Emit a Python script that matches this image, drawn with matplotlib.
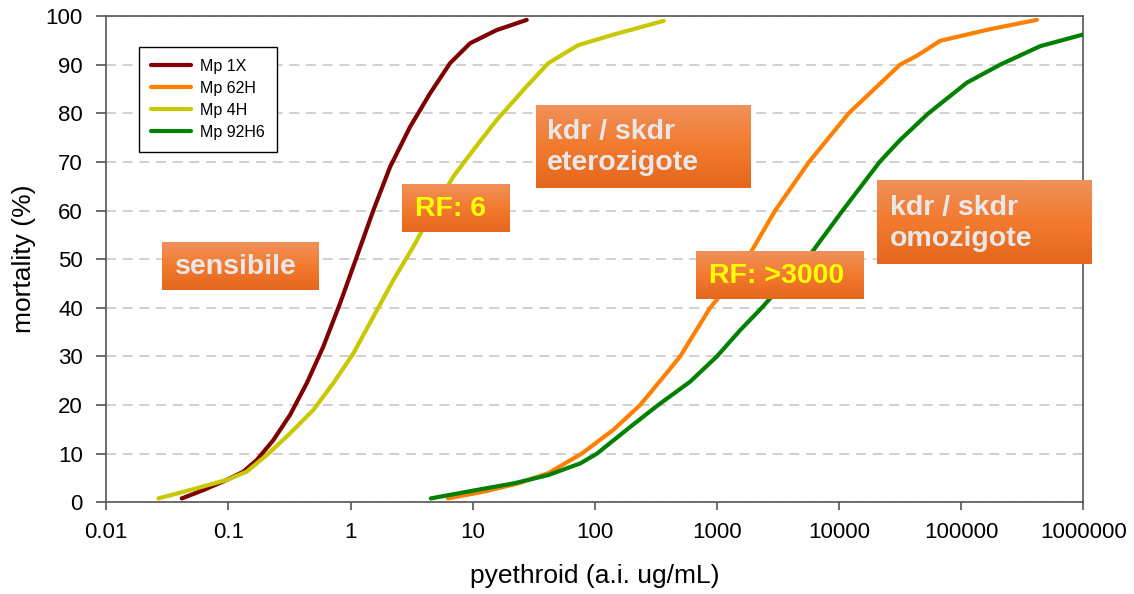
import numpy as np
import matplotlib
matplotlib.use('Agg')
from matplotlib import pyplot as plt
from matplotlib.colors import LinearSegmentedColormap

## Data ----------------------------------------------------------------------
# values (dose on log axis, mortality in %)
mp1x_dose = [0.0415, 0.0622, 0.0968, 0.1325, 0.1706, 0.2334, 0.32, 0.438, 0.598, 0.82, 1.125,
             1.54, 2.11, 3.07, 4.48, 6.53, 9.53, 15.7, 27.7]
mp1x_mort = [0.8, 2.5, 4.6, 6.3, 8.7, 12.8, 18.0, 24.5, 32.0, 40.9, 50.5,
             60.1, 69.0, 77.2, 84.1, 90.3, 94.4, 97.1, 99.2]

mp62h_dose = [6.27, 12.4, 23.7, 41.6, 78, 142, 235, 365, 500, 880, 1282, 1757, 3000,
              5680, 12000, 31600, 43300, 67300, 173000, 417000]
mp62h_mort = [0.8, 2.2, 3.9, 6.0, 10.0, 14.9, 20.0, 25.8, 30.0, 40.0, 45.0, 50.0, 60.0,
              70.0, 80.0, 90.0, 91.8, 94.9, 97.3, 99.2]

mp4h_dose = [0.0267, 0.0516, 0.0968, 0.141, 0.206, 0.32, 0.496, 0.722, 1.054, 1.54, 2.24, 3.27,
             4.77, 6.95, 10.1, 15.7, 26.7, 41.6, 73, 139, 366]
mp4h_mort = [0.8, 2.7, 4.6, 6.3, 9.7, 14.2, 19.0, 24.5, 30.6, 38.2, 45.7, 52.6,
             60.1, 67.0, 72.4, 78.6, 85.1, 90.3, 94.0, 96.1, 99.0]

mp92h6_dose = [4.54, 10.6, 21.8, 41.6, 76, 104, 195, 330, 603, 1000, 1550, 2330, 3510, 5450,
               10700, 21500, 31600, 54000, 111500, 209000, 444000, 1000000]
mp92h6_mort = [0.8, 2.5, 3.9, 5.6, 8.0, 10.0, 15.5, 20.0, 24.8, 30.0, 35.4, 40.0, 45.0, 50.0,
               60.0, 70.0, 74.5, 80.0, 86.3, 90.0, 93.8, 96.2]

series_names = ['Mp 1X', 'Mp 62H', 'Mp 4H', 'Mp 92H6']
series_colors = ['#800000', '#FF8000', '#C8C800', '#008000']

x_ticks = [0.01, 0.1, 1, 10, 100, 1000, 10000, 100000, 1000000]
x_ticklabels = ['0.01', '0.1', '1', '10', '100', '1000', '10000', '100000', '1000000']
y_ticks = list(range(0, 101, 10))

## Figure --------------------------------------------------------------------
plt.rcParams['font.family'] = ['Liberation Sans', 'DejaVu Sans']

W, H = 1134, 594
fig = plt.figure(figsize=(W / 100, H / 100), dpi=100)

def px_box(x0, y0, x1, y1):
    # pixel box (top-left origin) -> figure fraction [l, b, w, h]
    return [x0 / W, 1 - y1 / H, (x1 - x0) / W, (y1 - y0) / H]

ax = fig.add_axes(px_box(106.3, 16, 1083.3, 502.3))

doses = [mp1x_dose, mp62h_dose, mp4h_dose, mp92h6_dose]
morts = [mp1x_mort, mp62h_mort, mp4h_mort, mp92h6_mort]
for d, m, name, col in zip(doses, morts, series_names, series_colors):
    ax.plot(d, m, color=col, lw=3, label=name, solid_capstyle='round',
            solid_joinstyle='round', zorder=3)

ax.set_xscale('log')
ax.set_xlim(0.01, 1000000)
ax.set_ylim(0, 100)
ax.xaxis.set_major_locator(matplotlib.ticker.FixedLocator(x_ticks))
ax.xaxis.set_minor_locator(matplotlib.ticker.NullLocator())
ax.set_xticklabels(x_ticklabels)
ax.set_yticks(y_ticks)

ax.yaxis.grid(True, color='#C8C8C8', linestyle=(0, (6, 4)), lw=1.2)
ax.set_axisbelow(True)
for s in ax.spines.values():
    s.set_color('#555555')
    s.set_linewidth(1.2)
ax.tick_params(direction='out', width=1.2, color='#555555', labelsize=16)
ax.tick_params(axis='x', length=5.5, pad=9)
ax.tick_params(axis='y', length=7, pad=9.8)

ax.set_ylabel('mortality (%)', fontsize=19)
ax.set_xlabel('pyethroid (a.i. ug/mL)', fontsize=19)
ax.yaxis.set_label_coords(-0.072, 0.5)
ax.xaxis.set_label_coords(0.5, -0.127)

leg = ax.legend(loc='upper left', bbox_to_anchor=(139 / W, 1 - 47 / H), bbox_transform=fig.transFigure,
                fontsize=11.5, frameon=True, fancybox=False, edgecolor='black', framealpha=1,
                borderaxespad=0, handlelength=2.56, labelspacing=0.45, borderpad=0.72,
                handletextpad=0.56)
leg.get_frame().set_linewidth(1.0)

## Annotation boxes ----------------------------------------------------------
grad_cmap = LinearSegmentedColormap.from_list('og', ['#F0915A', '#F27A2E', '#E4671C'])
grad = np.linspace(0, 1, 64).reshape(-1, 1)

def label_box(x0, y0, x1, y1, text, color, tx):
    bax = fig.add_axes(px_box(x0, y0, x1, y1))
    bax.imshow(grad, aspect='auto', cmap=grad_cmap, extent=(0, 1, 0, 1))
    bax.set_axis_off()
    fig.text(tx / W, 1 - ((y0 + y1) / 2 + 1) / H, text, color=color, fontsize=20.5,
             fontweight='bold', ha='left', va='center', linespacing=1.25)

label_box(162, 242, 319, 290, 'sensibile', '#E8E8E8', 175)
label_box(402, 184, 510, 232, 'RF: 6', '#FFFF00', 415)
label_box(536, 105, 751, 188, 'kdr / skdr\neterozigote', '#E8E8E8', 547)
label_box(696, 251, 864, 299, 'RF: >3000', '#FFFF00', 709)
label_box(877, 180, 1092, 264, 'kdr / skdr\nomozigote', '#E8E8E8', 890)

plt.savefig('out.png', dpi=100)
